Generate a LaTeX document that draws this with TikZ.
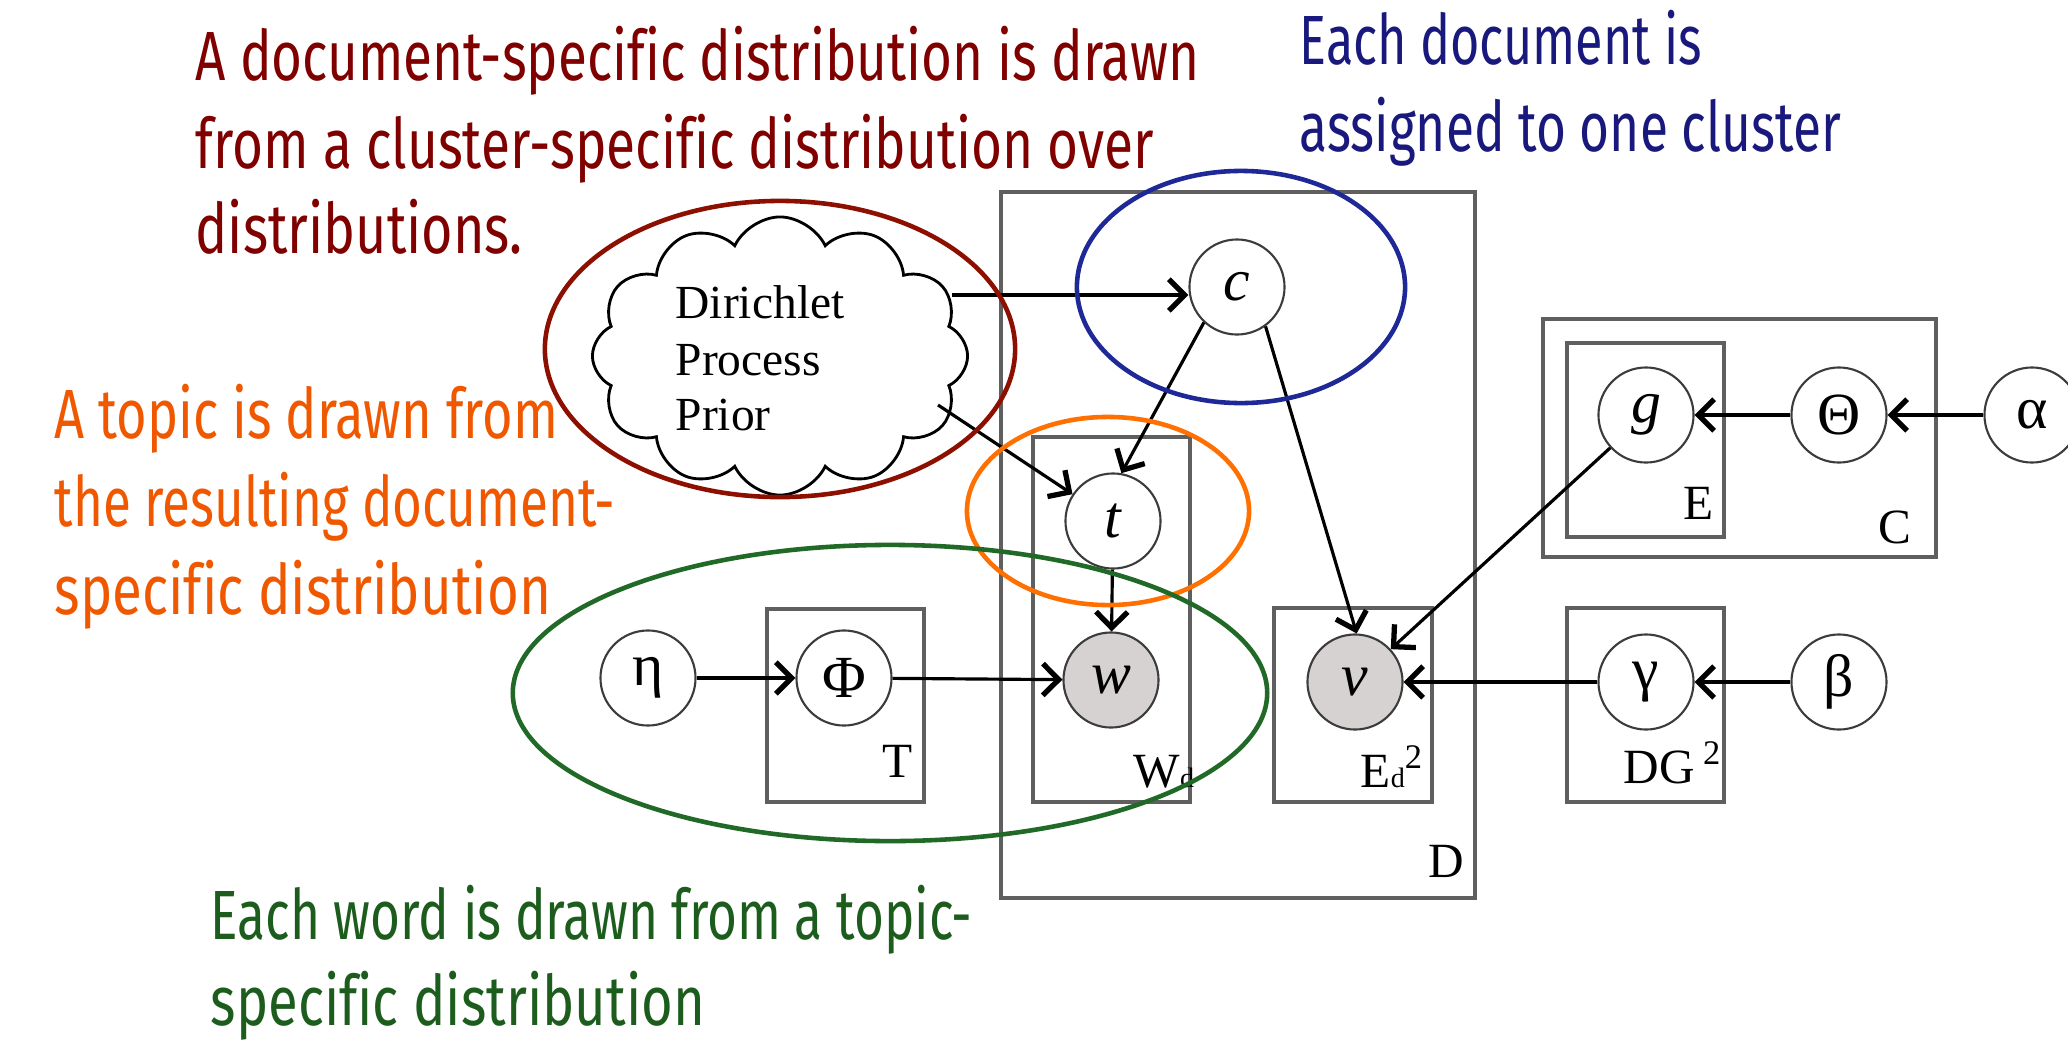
\documentclass[tikz,border=0pt]{standalone}
\usepackage{fontspec}
\usepackage{graphicx}
\setmainfont{Liberation Serif}
\newfontfamily\annfont{Fira Sans}[Ligatures=NoCommon]
\usetikzlibrary{arrows.meta,shapes.symbols}
\definecolor{dred}{RGB}{128,0,0}
\definecolor{ered}{RGB}{140,15,0}
\definecolor{dblue}{RGB}{25,25,125}
\definecolor{eblue}{RGB}{30,40,150}
\definecolor{torange}{RGB}{240,88,0}
\definecolor{eorange}{RGB}{255,112,0}
\definecolor{dgreen}{RGB}{28,92,28}
\definecolor{egreen}{RGB}{32,105,38}
\definecolor{platec}{RGB}{95,95,95}
\definecolor{nodec}{RGB}{60,60,60}
\definecolor{obsfill}{RGB}{214,210,210}
\newcommand\fitline[2]{\resizebox{#1}{\height}{#2}}
\newcommand\smallsub[1]{{\fontsize{8}{8}\selectfont #1}}
\tikzset{
  var/.style={circle, draw=nodec, line width=0.6pt, minimum size=0.95cm, inner sep=0pt, font=\fontsize{17}{17}\selectfont},
  obs/.style={var, fill=obsfill},
  plate/.style={draw=platec, line width=0.9pt},
  platelabel/.style={anchor=base west, inner sep=0pt, font=\fontsize{14}{14}\selectfont},
  cloudtext/.style={anchor=base west, inner sep=0pt, font=\fontsize{13.5}{13.5}\selectfont},
  arr/.style={-{Straight Barb[length=4.5pt,width=9pt,line width=1.5pt]}, line width=0.9pt},
  ann/.style={anchor=base west, inner sep=0pt, font=\annfont\fontsize{19.8}{24}\selectfont},
  hl/.style={line width=1.3pt},
}
\begin{document}
\begin{tikzpicture}[x=0.01cm,y=-0.01cm]
\useasboundingbox (0,0) rectangle (2068,1045);
\fill[white] (0,0) rectangle (2068,1045);

% plates
\draw[plate] (1001,192) rectangle (1475,898);
\draw[plate] (1033,437) rectangle (1190,802);
\draw[plate] (767,609) rectangle (924,802);
\draw[plate] (1274,608) rectangle (1432,802);
\draw[plate] (1567,608) rectangle (1724,802);
\draw[plate] (1543,319) rectangle (1936,557);
\draw[plate] (1567,343) rectangle (1724,537);

\node[platelabel] (lD) at (1428,877) {D};
\node[platelabel] (lW) at (1133,787) {W\smallsub{d}};
\node[platelabel] (lEd) at (1360,787) {E\smallsub{d}\textsuperscript{2}};
\node[platelabel] (lT) at (882,777) {T};
\node[platelabel] (lDG) at (1623,783) {DG\,\textsuperscript{2}};
\node[platelabel] (lE) at (1683,519) {E};
\node[platelabel] (lC) at (1878,543) {C};

% cloud
\node[cloud, draw, line width=0.8pt, fill=white, cloud puffs=12, cloud puff arc=130, cloud ignores aspect,
      minimum width=3.75cm, minimum height=2.78cm, inner sep=0pt] (dpp) at (780,356) {};
\node[cloudtext] (dpp1) at (675,318) {Dirichlet};
\node[cloudtext] (dpp2) at (675,375) {Process};
\node[cloudtext] (dpp3) at (675,430) {Prior};

% variables
\node[var] (c) at (1237,287) {\itshape c};
\node[var] (t) at (1113,521) {\itshape t};
\node[obs] (w) at (1111,680) {\itshape w};
\node[obs] (v) at (1355,682) {\itshape v};
\node[var] (eta) at (648,678) {η};
\node[var] (Phi) at (844,678) {Φ};
\node[var] (gamma) at (1646,682) {γ};
\node[var] (beta) at (1839,682) {β};
\node[var] (g) at (1646,415) {\itshape g};
\node[var] (Theta) at (1839,415) {Θ};
\node[var] (alpha) at (2032,415) {α};

% connectors
\coordinate (cA) at (952,295);
\coordinate (cB) at (938,405);
\draw[arr] (cA) -- (cA -| c.west);
\draw[arr] (cB) -- (t);
\draw[arr] (c.-133) -- (t.80);
\draw[arr] (c.-54) -- (v.88);
\draw[arr] (t) -- (w);
\draw[arr] (eta) -- (Phi);
\draw[arr] (Phi) -- (w);
\draw[arr] (g) -- (v);
\draw[arr] (gamma) -- (v);
\draw[arr] (beta) -- (gamma);
\draw[arr] (Theta) -- (g);
\draw[arr] (alpha) -- (Theta);

% highlight ellipses
\draw[hl, draw=ered] (780,349) ellipse [x radius=2.35cm, y radius=1.48cm];
\draw[hl, draw=eblue] (1241,287) ellipse [x radius=1.64cm, y radius=1.16cm];
\draw[hl, draw=eorange] (1108,511) ellipse [x radius=1.41cm, y radius=0.94cm];
\draw[hl, draw=egreen] (890,693) ellipse [x radius=3.77cm, y radius=1.48cm];

% annotations
\node[ann, text=dred] (r1) at (195,80) {\fitline{10.03cm}{A document-specific distribution is drawn}};
\node[ann, text=dred] (r2) at (195,168) {\fitline{9.58cm}{from a cluster-specific distribution over}};
\node[ann, text=dred] (r3) at (195,253) {\fitline{3.27cm}{distributions.}};
\node[ann, text=dblue] (b1) at (1299,64) {\fitline{4.02cm}{Each document is}};
\node[ann, text=dblue] (b2) at (1299,151) {\fitline{5.41cm}{assigned to one cluster}};
\node[ann, text=torange] (o1) at (54,438) {\fitline{5.03cm}{A topic is drawn from}};
\node[ann, text=torange] (o2) at (54,526) {\fitline{5.60cm}{the resulting document-}};
\node[ann, text=torange] (o3) at (54,614) {\fitline{4.96cm}{specific distribution}};
\node[ann, text=dgreen] (g1) at (210,939) {\fitline{7.61cm}{Each word is drawn from a topic-}};
\node[ann, text=dgreen] (g2) at (210,1025) {\fitline{4.94cm}{specific distribution}};
\end{tikzpicture}
\end{document}
